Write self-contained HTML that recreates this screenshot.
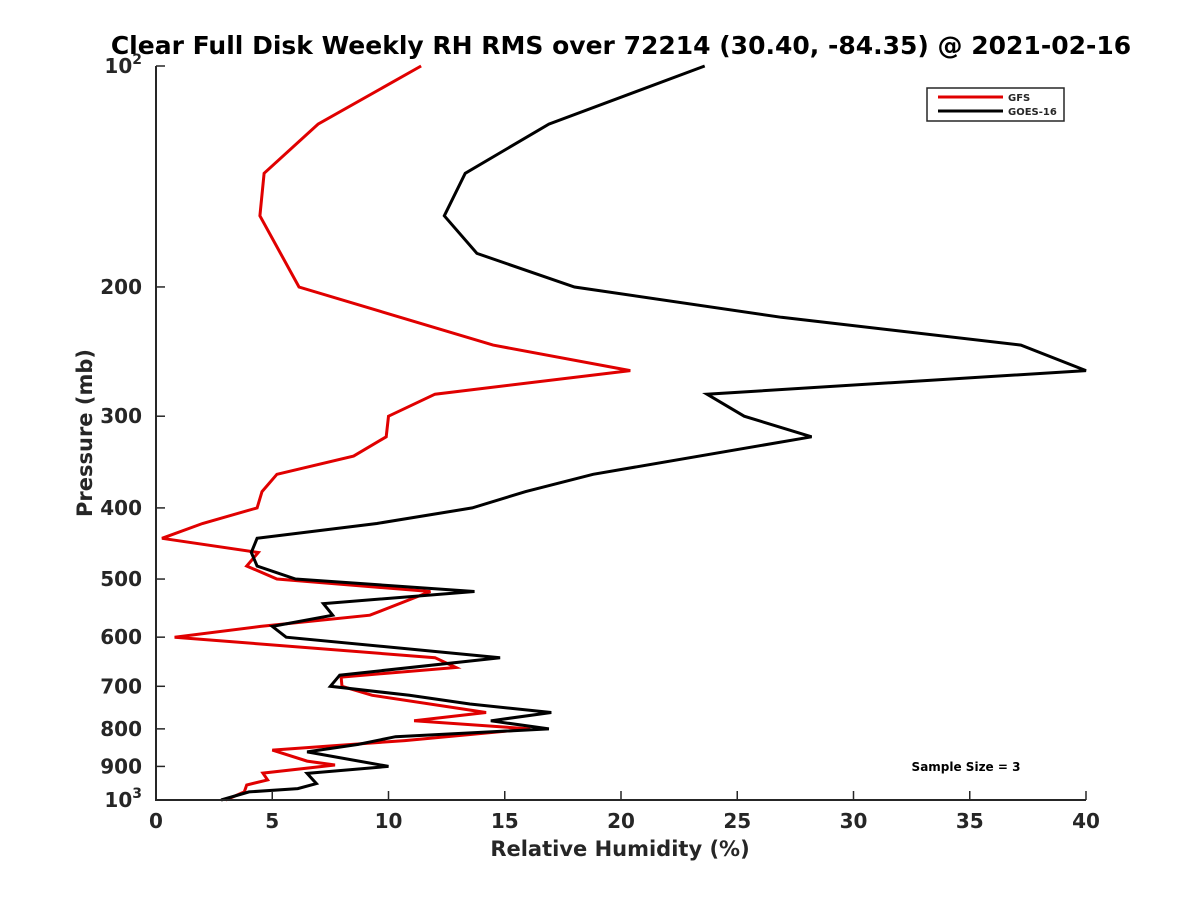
<!DOCTYPE html>
<html><head><meta charset="utf-8"><style>
body{margin:0;background:#fff;}
svg text{font-family:"DejaVu Sans","Liberation Sans",sans-serif;font-weight:bold;fill:#262626;}
</style></head><body>
<svg id="c" width="1200" height="900" viewBox="0 0 1200 900">
<rect width="1200" height="900" fill="#fff"/>
<g id="plot"></g>
</svg>
<script>
const pressure=[100,120,140,160,200,240,260,280,300,320,340,360,380,400,420,440,460,480,500,520,560,580,600,640,660,680,700,720,760,780,800,830,855,885,896,919,939,954,975,1000];
const gfs=[11.4,6.97,4.65,4.47,6.15,14.5,20.4,12.0,10.0,9.9,8.5,5.2,4.56,4.35,2.0,0.26,4.4,3.9,5.2,11.8,9.2,4.5,0.8,12.0,12.9,7.96,8.0,9.3,14.2,11.1,16.1,10.7,5.0,6.5,7.7,4.6,4.8,3.9,3.8,3.0];
const goesP=[100,120,140,160,180,200,220,240,260,280,300,320,360,380,400,420,440,460,480,500,520,540,560,580,600,640,676,700,720,740,760,780,800,820,840,860,900,920,950,965,975,1000];
const goes=[23.6,16.9,13.3,12.4,13.8,18.0,26.9,37.2,40,23.7,25.3,28.2,18.8,15.9,13.6,9.5,4.35,4.1,4.35,6.0,13.7,7.2,7.6,5.0,5.6,14.8,7.9,7.5,10.9,13.5,17.0,14.4,16.9,10.3,8.7,6.5,10.0,6.5,6.9,6.1,4.0,2.8];
const xTicks=[0,5,10,15,20,25,30,35,40];
const yTicks=[100,200,300,400,500,600,700,800,900,1000];
const yLabels=["","200","300","400","500","600","700","800","900",""];

const L=156,R=1086,T=66,B=800;
const xs=v=>L+(v/40)*(R-L);
const ys=p=>T+Math.log10(p/100)*(B-T);
const NS="http://www.w3.org/2000/svg";
const g=document.getElementById('plot');
function mk(tag,attrs,parent){const e=document.createElementNS(NS,tag);for(const k in attrs)e.setAttribute(k,attrs[k]);(parent||g).appendChild(e);return e;}

function line(xv,pv,color,name){
  const d=xv.map((v,i)=>(i?'L':'M')+xs(v).toFixed(1)+','+ys(pv[i]).toFixed(1)).join('');
  const e=mk('path',{d:d,fill:'none',stroke:color,'stroke-width':3,'stroke-linejoin':'miter'});
  
  
}
line(gfs,pressure,'#e00000','gfs-line');
line(goes,goesP,'#000','goes16-line');

const ax=mk('path',{d:`M${L},${T}L${L},${B}L${R},${B}`,fill:'none',stroke:'#262626','stroke-width':2});


xTicks.forEach(v=>{
  mk('line',{x1:xs(v),x2:xs(v),y1:B,y2:B-9,stroke:'#262626','stroke-width':1.5});
  const t=mk('text',{x:xs(v),y:B+28,'font-size':20,'text-anchor':'middle'});t.textContent=v;
  
  
});
yTicks.forEach((p,i)=>{
  mk('line',{x1:L,x2:L+9,y1:ys(p),y2:ys(p),stroke:'#262626','stroke-width':1.5});
  if(yLabels[i]){const t=mk('text',{x:L-14,y:ys(p)+7,'font-size':20,'text-anchor':'end'});t.textContent=yLabels[i];
  
  }
});
</script>
<svg style="position:absolute;left:0;top:0" width="1200" height="900">
<text x="621" y="54" font-size="25" text-anchor="middle" style="fill:#000">Clear Full Disk Weekly RH RMS over 72214 (30.40, -84.35) @ 2021-02-16</text>
<text x="142" y="73" font-size="20" text-anchor="end">10<tspan dy="-9" font-size="14">2</tspan></text>
<text x="142" y="807" font-size="20" text-anchor="end">10<tspan dy="-9" font-size="14">3</tspan></text>
<text x="620" y="856" font-size="21" text-anchor="middle">Relative Humidity (%)</text>
<text transform="translate(92,433) rotate(-90)" font-size="21" text-anchor="middle">Pressure (mb)</text>
<g>
<rect x="927" y="88" width="137" height="33" fill="#fff" stroke="#262626" stroke-width="1.5"/>
<line x1="938" y1="97" x2="1003" y2="97" stroke="#e00000" stroke-width="3"/>
<line x1="938" y1="111" x2="1003" y2="111" stroke="#000" stroke-width="3"/>
<text x="1008" y="101" font-size="10">GFS</text>
<text x="1008" y="115" font-size="10">GOES-16</text>
</g>
<text x="966" y="771" font-size="12" text-anchor="middle" style="fill:#000">Sample Size = 3</text>
</svg>
</body></html>
